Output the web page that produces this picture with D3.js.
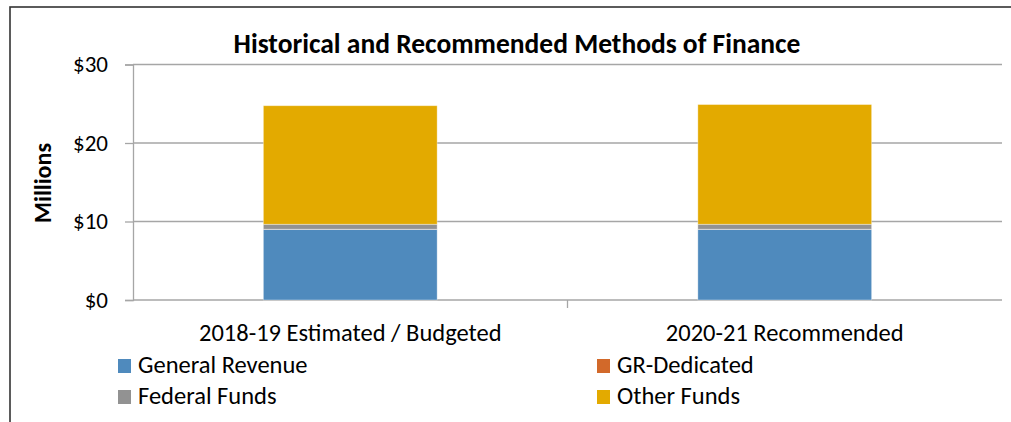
<!DOCTYPE html>
<html>
<head>
<meta charset="utf-8">
<style>
  body { margin: 0; background: #fff; }
  svg text { font-family: Carlito, Calibri, Lato, sans-serif; fill: #000; }
</style>
</head>
<body>
<svg id="chart" width="1011" height="422"></svg>
<script src="https://cdn.jsdelivr.net/npm/d3@7"></script>
<script>
var categories = ["2018-19 Estimated / Budgeted", "2020-21 Recommended"];
var seriesNames = ["General Revenue", "GR-Dedicated", "Federal Funds", "Other Funds"];
var generalRevenue = [9.0, 9.0];
var grDedicated = [0.02, 0.02];
var federalFunds = [0.63, 0.63];
var otherFunds = [15.1, 15.25];
var yTicks = [0, 10, 20, 30];
var colors = ["#4f8abd", "#d2692a", "#929292", "#e3aa00"];

var rows = categories.map(function (c, i) {
    return { cat: c, "General Revenue": generalRevenue[i], "GR-Dedicated": grDedicated[i],
        "Federal Funds": federalFunds[i], "Other Funds": otherFunds[i] };
});

var svg = d3.select('#chart');
var plotLeft = 133, plotRight = 1002, plotTop = 64.5, plotBottom = 300;

// outer frame (cut at right/bottom)
svg.append('rect').attr('x', 10).attr('y', 7).attr('width', 1010).attr('height', 430)
    .attr('fill', 'none').attr('stroke', '#333').attr('stroke-width', 1.6);

var x = d3.scaleBand().domain(categories).range([plotLeft, plotRight]).paddingInner(0.6).paddingOuter(0.3);
var y = d3.scaleLinear().domain([0, 30]).range([plotBottom, plotTop]);

// gridlines
svg.append('g').selectAll('line').data(yTicks).enter().append('line')
    .attr('x1', plotLeft).attr('x2', plotRight)
    .attr('y1', function (d) { return y(d); }).attr('y2', function (d) { return y(d); })
    .attr('stroke', '#a6a6a6').attr('stroke-width', 1.3);

// y axis
var yAxis = svg.append('g').attr('transform', 'translate(' + plotLeft + ',0)')
    .call(d3.axisLeft(y).tickValues(yTicks).tickSize(8).tickPadding(17)
        .tickFormat(function (d) { return '$' + d; }));
yAxis.select('.domain').attr('stroke', '#a6a6a6').attr('stroke-width', 1.3);
yAxis.selectAll('.tick line').attr('stroke', '#a6a6a6').attr('stroke-width', 1.3);
yAxis.selectAll('.tick text').attr('font-size', 23).attr('font-family', 'Carlito, Calibri, Lato, sans-serif').attr('fill', '#000');

// category boundary tick
svg.append('line').attr('x1', (plotLeft + plotRight) / 2).attr('x2', (plotLeft + plotRight) / 2)
    .attr('y1', plotBottom).attr('y2', plotBottom + 8).attr('stroke', '#a6a6a6').attr('stroke-width', 1.3);

// bars
var stack = d3.stack().keys(seriesNames)(rows);
svg.append('g').selectAll('g').data(stack).enter().append('g')
    .attr('fill', function (d, i) { return colors[i]; })
    .selectAll('rect').data(function (d) { return d; }).enter().append('rect')
    .attr('x', function (d) { return x(d.data.cat); })
    .attr('width', x.bandwidth())
    .attr('y', function (d) { return y(d[1]); })
    .attr('height', function (d) { return y(d[0]) - y(d[1]); })
    .attr('stroke', '#ffffff').attr('stroke-opacity', 0.45).attr('stroke-width', 0.8);

// category labels
svg.append('g').selectAll('text').data(categories).enter().append('text')
    .attr('x', function (d) { return x(d) + x.bandwidth() / 2; })
    .attr('y', 341).attr('text-anchor', 'middle').attr('font-size', 24.5)
    .text(function (d) { return d; });

// title
svg.append('text').attr('x', 517).attr('y', 53).attr('text-anchor', 'middle')
    .attr('font-size', 27.5).attr('font-weight', 'bold')
    .text('Historical and Recommended Methods of Finance');

// y axis title
svg.append('text').attr('transform', 'translate(51,183) rotate(-90)')
    .attr('text-anchor', 'middle').attr('font-size', 24).attr('font-weight', 'bold')
    .text('Millions');

// legend
var legendPos = [[118, 373], [597, 373], [118, 404], [597, 404]];
var legend = svg.append('g').selectAll('g').data(seriesNames).enter().append('g')
    .attr('transform', function (d, i) { return 'translate(' + legendPos[i][0] + ',' + legendPos[i][1] + ')'; });
legend.append('rect').attr('x', 0).attr('y', -14).attr('width', 13).attr('height', 14)
    .attr('fill', function (d, i) { return colors[i]; });
legend.append('text').attr('x', 20).attr('y', 0).attr('font-size', 24.5)
    .text(function (d) { return d; });
</script>
</body>
</html>
